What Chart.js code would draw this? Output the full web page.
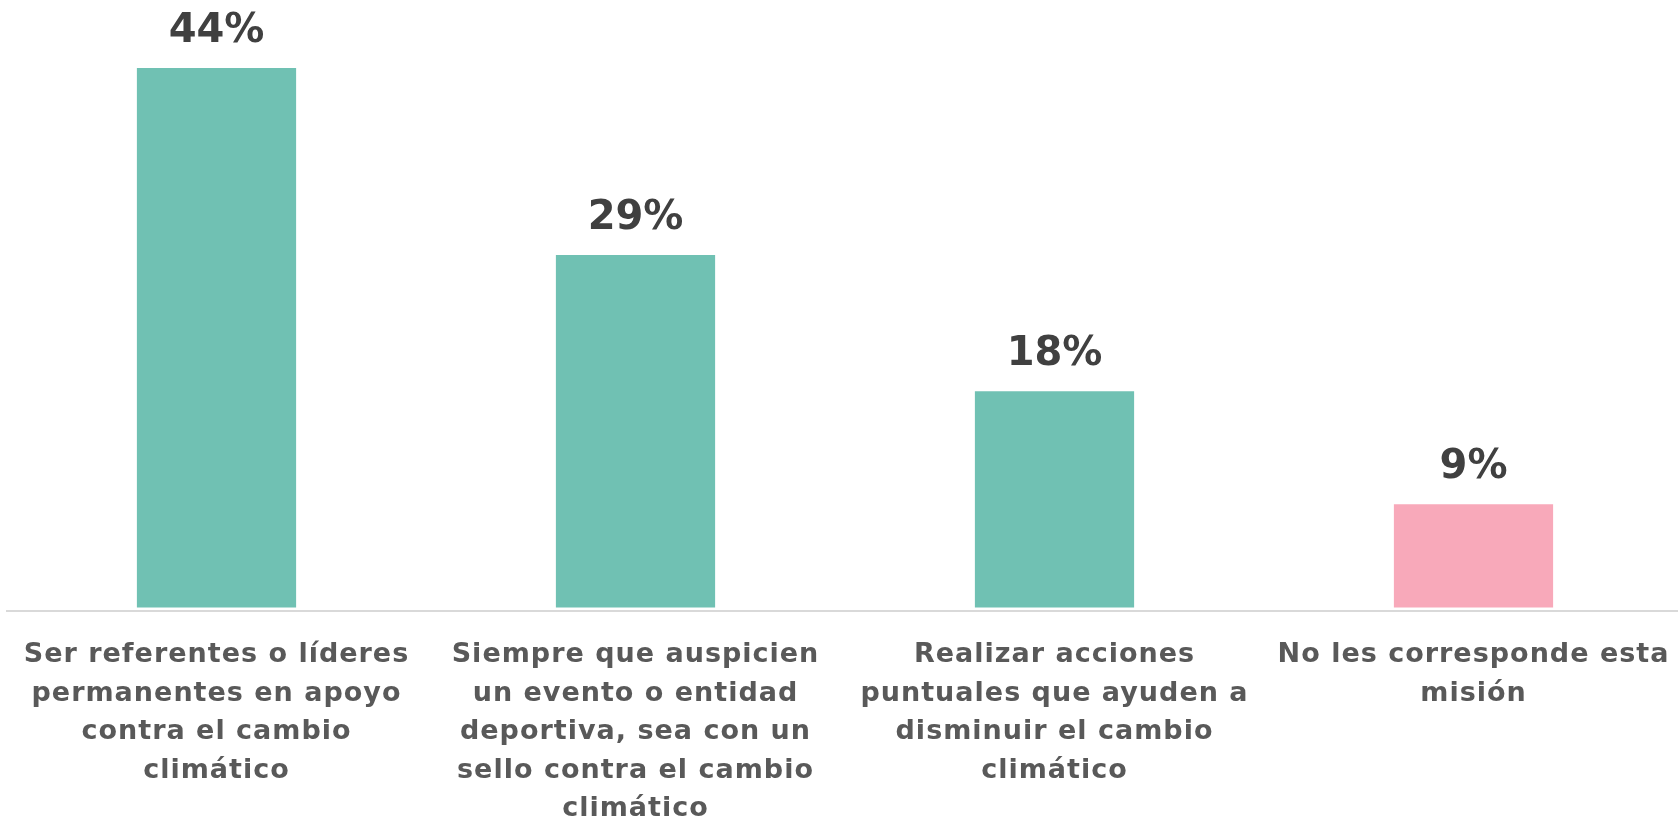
<!DOCTYPE html>
<html>
<head>
<meta charset="utf-8">
<script src="https://cdn.jsdelivr.net/npm/chart.js@4"></script>
<style>
  html, body { margin: 0; background: #fff; overflow: hidden; }
  #wrap { width: 1683px; height: 823px; }
</style>
</head>
<body>
<div id="wrap"><canvas id="graficoMision" width="1683" height="823"></canvas></div>
<script>
// categorías (ya cortadas en líneas como en la lámina)
const categorias = [
    ['Ser referentes o líderes', 'permanentes en apoyo', 'contra el cambio', 'climático'],
    ['Siempre que auspicien', 'un evento o entidad', 'deportiva, sea con un', 'sello contra el cambio', 'climático'],
    ['Realizar acciones', 'puntuales que ayuden a', 'disminuir el cambio', 'climático'],
    ['No les corresponde esta', 'misión']
];
const porcentajes = [44.4, 29.0, 17.8, 8.5];
const colores = ['#70c1b3', '#70c1b3', '#70c1b3', '#f8a9ba'];

const FUENTE = '"DejaVu Sans", sans-serif';

// un poco de espaciado entre letras para acercarse al ancho original
const espaciado = {
    id: 'espaciado',
    beforeLayout(chart) { chart.ctx.letterSpacing = '1px'; },
    beforeDraw(chart) { chart.ctx.letterSpacing = '1px'; }
};

// etiqueta de valor arriba de cada barra
const etiquetasValor = {
    id: 'etiquetasValor',
    afterDatasetsDraw(chart) {
        const ctx = chart.ctx;
        const meta = chart.getDatasetMeta(0);
        ctx.save();
        ctx.letterSpacing = '0px';
        ctx.font = 'bold 40px ' + FUENTE;
        ctx.fillStyle = '#404040';
        ctx.textAlign = 'center';
        ctx.textBaseline = 'alphabetic';
        meta.data.forEach((bar, i) => {
            ctx.fillText(Math.round(porcentajes[i]) + '%', bar.x, bar.y - 26);
        });
        ctx.restore();
    }
};

const el = document.getElementById('graficoMision');
const grafico = new Chart(el.getContext('2d'), {
    type: 'bar',
    data: {
        labels: categorias,
        datasets: [{
            data: porcentajes,
            backgroundColor: colores,
            borderWidth: 0,
            categoryPercentage: 1,
            barPercentage: 0.38
        }]
    },
    options: {
        responsive: false,
        animation: false,
        layout: { padding: { left: 7, right: 0, top: 68, bottom: 0 } },
        plugins: {
            legend: { display: false },
            tooltip: { enabled: false }
        },
        scales: {
            y: {
                display: false,
                min: -0.29,
                max: 44.4
            },
            x: {
                grid: { display: false },
                border: { display: true, color: '#d9d9d9', width: 2 },
                afterFit(scale) {
                    scale.height = 212;
                    scale.paddingLeft = 0;
                    scale.paddingRight = 0;
                },
                ticks: {
                    padding: 17,
                    maxRotation: 0,
                    autoSkip: false,
                    color: '#595959',
                    font: { family: FUENTE, size: 27, weight: 'bold', lineHeight: '38.5px' }
                }
            }
        }
    },
    plugins: [espaciado, etiquetasValor]
});
</script>
</body>
</html>
